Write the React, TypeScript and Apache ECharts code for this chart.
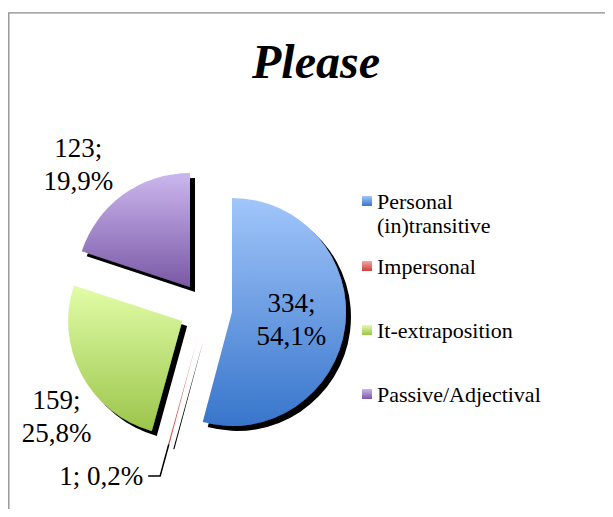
import React, { useEffect, useRef } from 'react';
import * as echarts from 'echarts';

const chartTitle = 'Please';
const categories = ['Personal (in)transitive', 'Impersonal', 'It-extraposition', 'Passive/Adjectival'];
const values = [334, 1, 159, 123];

const gradTop = ['#a1c6fa', '#f6a6a4', '#e2fda8', '#cbb7ee'];
const gradBottom = ['#3875cb', '#c8423f', '#9bc54b', '#7a58a6'];

const FONT = '"Liberation Serif", "Times New Roman", serif';

// label layout tweaks per slice
const labelPlacement: any[] = [
  { position: 'inside', length: 10, length2: 10, distance: 5, line: false, single: false },
  { position: 'outside', length: 33, length2: 12, distance: 5, line: true, single: true },
  { position: 'outside', length: 88.5, length2: -87.8, distance: 0, line: false, single: false },
  { position: 'outside', length: 36.8, length2: -11.6, distance: 0, line: false, single: false },
];
const legendTops = [157, 246, 310, 374];

function fmtPct(p: number) {
  return p.toFixed(1).replace('.', ',') + '%';
}

export default function App() {
  const ref = useRef<HTMLDivElement>(null);
  useEffect(() => {
    if (!ref.current) return;
    const chart = echarts.init(ref.current, undefined, { renderer: 'svg' });
    const data = categories.map((name, i) => {
      const lp = labelPlacement[i];
      return {
        name,
        value: values[i],
        selected: true,
        itemStyle: {
          color: new echarts.graphic.LinearGradient(0, 0, 0, 1, [
            { offset: 0, color: gradTop[i] },
            { offset: 1, color: gradBottom[i] },
          ]),
        },
        label: {
          position: lp.position,
          distanceToLabelLine: lp.distance,
          formatter: (p: any) =>
            lp.single
              ? `{t|${p.value}; ${fmtPct(p.percent)}}`
              : `{t|${p.value};}\n{t|${fmtPct(p.percent)}}`,
        },
        labelLine: {
          show: lp.line,
          length: lp.length,
          length2: lp.length2,
          lineStyle: { color: '#000', width: 1.5 },
        },
      };
    });
    const option: any = {
      animation: false,
      backgroundColor: '#fff',
      title: {
        text: chartTitle,
        left: 308,
        top: 29,
        padding: 0,
        textAlign: 'center',
        textVerticalAlign: 'top',
        textStyle: {
          fontFamily: FONT,
          fontSize: 48,
          fontWeight: 'bold',
          fontStyle: 'italic',
          color: '#000',
          lineHeight: 48,
        },
      },
      graphic: [
        {
          type: 'rect',
          silent: true,
          z: -10,
          shape: { x: 0.8, y: 4.8, width: 2000, height: 2000 },
          style: { fill: 'none', stroke: '#8a8a8a', lineWidth: 1.3 },
        },
      ],
      legend: categories.map((name, i) => ({
        orient: 'vertical',
        left: 354,
        top: legendTops[i],
        padding: 0,
        itemWidth: 10,
        itemHeight: 10,
        icon: 'rect',
        selectedMode: false,
        data: [name],
        formatter: (n: string) => (i === 0 ? '\n' + n.replace(' ', '\n') : n),
        itemStyle: { shadowBlur: 0, shadowOffsetX: 0, shadowOffsetY: 0, shadowColor: 'transparent', borderWidth: 0 },
        textStyle: {
          fontFamily: FONT,
          fontSize: 22,
          lineHeight: 24,
          color: '#000',
        },
      })),
      series: [
        {
          type: 'pie',
          center: [197.6, 300.5],
          radius: 114,
          startAngle: 90,
          clockwise: true,
          selectedMode: 'multiple',
          selectedOffset: 26.6,
          avoidLabelOverlap: false,
          percentPrecision: 1,
          labelLayout: { hideOverlap: false },
          emphasis: { disabled: true },
          select: { itemStyle: { borderWidth: 0 } },
          itemStyle: {
            borderWidth: 0,
            shadowColor: '#000',
            shadowBlur: 1.5,
            shadowOffsetX: 5,
            shadowOffsetY: 5,
          },
          label: {
            color: '#000',
            fontFamily: FONT,
            fontSize: 27,
            lineHeight: 33,
            rich: {
              t: { align: 'center', fontFamily: FONT, fontSize: 27, lineHeight: 33, color: '#000' },
            },
          },
          data,
        },
      ],
    };
    chart.setOption(option);
    return () => chart.dispose();
  }, []);
  return <div ref={ref} style={{ width: 597, height: 501 }} />;
}
